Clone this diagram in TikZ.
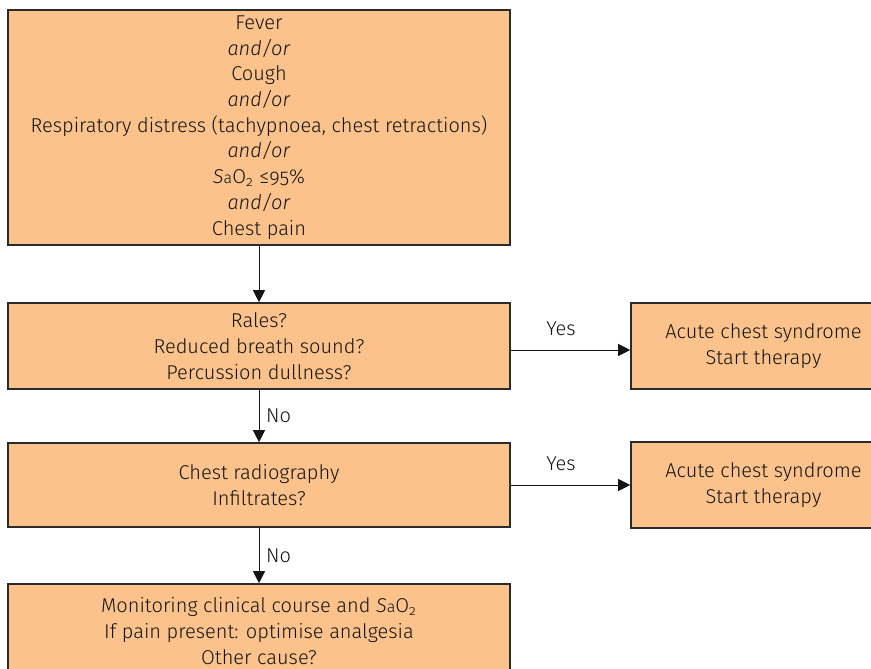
\documentclass[tikz,border=0pt]{standalone}
\usepackage{fontspec}
\setmainfont{Fira Sans Light}[Numbers=OldStyle]
\usetikzlibrary{arrows.meta, positioning}
\definecolor{peach}{HTML}{FBC38B}
\definecolor{edge}{HTML}{2B2B2B}
\definecolor{ink}{HTML}{141414}
\newcommand{\SaOtwo}{\textit{S}{\footnotesize a}O\textsubscript{2}}

\begin{document}
\begin{tikzpicture}[x=0.5pt, y=-0.5pt,
    box/.style={
      draw=edge, fill=peach, line width=0.8pt,
      align=center, inner sep=0pt, text=ink,
      font=\fontsize{10}{12.85}\selectfont
    },
    wide/.style={box, minimum width=251pt},
    side/.style={box, minimum width=132.5pt, minimum height=43pt},
    arrow/.style={-{Triangle[length=6pt, width=6pt]}, ink, line width=0.5pt},
    reply/.style={font=\fontsize{10}{12}\selectfont, text=ink}
  ]
  \clip (0,0) rectangle (871,668);

  % left column
  \node[wide, minimum height=117.5pt] (signs) at (259,127.5)
    {Fever\\\textit{and/or}\\Cough\\\textit{and/or}\\
     Respiratory distress (tachypnoea, chest retractions)\\\textit{and/or}\\
     \SaOtwo{} ≤95\%\\\textit{and/or}\\Chest pain};
  \node[wide, minimum height=43pt] (exam) at (259,346)
    {Rales?\\Reduced breath sound?\\Percussion dullness?};
  \node[wide, minimum height=42pt] (xray) at (259,485)
    {Chest radiography\\Infiltrates?};
  \node[wide, minimum height=47pt] (watch) at (259,631)
    {Monitoring clinical course and \SaOtwo\\If pain present: optimise analgesia\\Other cause?};

  % right column
  \node[side] (acs1) at (763.5,346) {Acute chest syndrome\\Start therapy};
  \node[side] (acs2) at (763.5,485) {Acute chest syndrome\\Start therapy};

  \draw[arrow] (signs.south) -- (exam.north);
  \draw[arrow] (exam.south) -- (xray.north)
    node[midway, right=0pt, reply]{No};
  \draw[arrow] (xray.south) -- (watch.north)
    node[midway, right=0pt, reply]{No};
  \draw[arrow] ([yshift=-2pt]exam.east) -- ([yshift=-2pt]acs1.west)
    node[pos=0.42, above=3.5pt, reply]{Yes};
  \draw[arrow] (xray.east) -- (acs2.west)
    node[pos=0.42, above=3.5pt, reply]{Yes};
\end{tikzpicture}
\end{document}
